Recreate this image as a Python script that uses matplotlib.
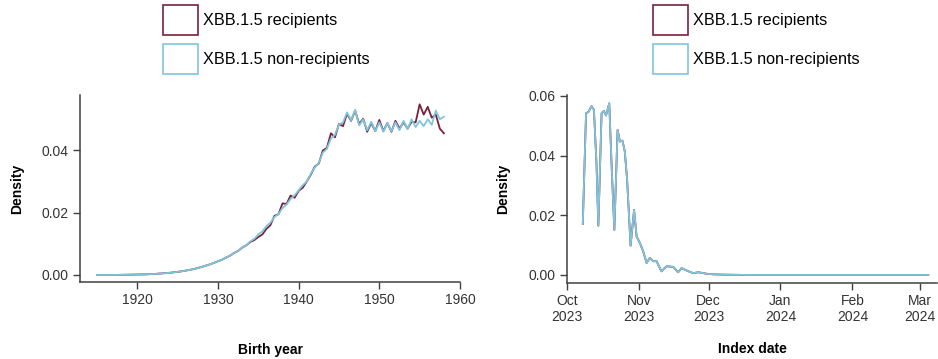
import numpy as np
import pandas as pd
import matplotlib
matplotlib.use("Agg")
import matplotlib.pyplot as plt
import matplotlib.dates as mdates
from matplotlib.patches import Patch

plt.rcParams["font.family"] = ["Liberation Sans", "DejaVu Sans"]

# birth year density
birth_year = [1915, 1917, 1919, 1921, 1922, 1923, 1924, 1925, 1926, 1927, 1928, 1929,
              1930, 1930.5, 1931, 1931.5, 1932, 1932.5, 1933, 1933.5, 1934, 1934.5,
              1935, 1935.5, 1936, 1936.5, 1937, 1937.5, 1938, 1938.5, 1939, 1939.5,
              1940, 1940.5, 1941, 1941.5, 1942, 1942.5, 1943, 1943.5, 1944, 1944.5,
              1945, 1945.5, 1946, 1946.5, 1947, 1947.5, 1948, 1948.5, 1949, 1949.5,
              1950, 1950.5, 1951, 1951.5, 1952, 1952.5, 1953, 1953.5, 1954, 1954.5,
              1955, 1955.5, 1956, 1956.5, 1957, 1957.5, 1958]

by_nonrecip = [0.0000, 0.0000, 0.0001, 0.0002, 0.0003, 0.0005, 0.0007, 0.0010, 0.0014, 0.0019, 0.0026, 0.0034,
               0.0044, 0.0049, 0.0056, 0.0062, 0.0071, 0.0077, 0.0088, 0.0095, 0.0108, 0.0116,
               0.0130, 0.0140, 0.0157, 0.0168, 0.0186, 0.0196, 0.0215, 0.0226, 0.0244, 0.0256,
               0.0272, 0.0288, 0.0300, 0.0325, 0.0345, 0.0360, 0.0393, 0.0405, 0.0438, 0.0450,
               0.0483, 0.0490, 0.0522, 0.0497, 0.0530, 0.0480, 0.0500, 0.0465, 0.0492, 0.0462,
               0.0490, 0.0460, 0.0488, 0.0462, 0.0490, 0.0465, 0.0495, 0.0468, 0.0500, 0.0475,
               0.0495, 0.0478, 0.0500, 0.0482, 0.0528, 0.0500, 0.0508]

by_recip = [0.0000, 0.0000, 0.0001, 0.0002, 0.0003, 0.0005, 0.0007, 0.0010, 0.0014, 0.0019, 0.0026, 0.0034,
            0.0044, 0.0049, 0.0056, 0.0062, 0.0071, 0.0077, 0.0088, 0.0095, 0.0106, 0.0112,
            0.0122, 0.0130, 0.0148, 0.0160, 0.0190, 0.0195, 0.0230, 0.0228, 0.0255, 0.0248,
            0.0270, 0.0280, 0.0300, 0.0322, 0.0348, 0.0358, 0.0400, 0.0408, 0.0455, 0.0442,
            0.0485, 0.0478, 0.0518, 0.0495, 0.0528, 0.0485, 0.0502, 0.0460, 0.0488, 0.0462,
            0.0498, 0.0462, 0.0488, 0.0460, 0.0495, 0.0470, 0.0490, 0.0470, 0.0492, 0.0490,
            0.0548, 0.0515, 0.0540, 0.0505, 0.0515, 0.0470, 0.0455]

# index date density (days after 1 Oct 2023)
idx_days = [6.8, 8.2, 9.2, 10.6, 11.6, 12.7, 13.5, 14.9, 15.9, 16.8, 18.2, 19.2, 20.4,
            21.8, 22.8, 23.9, 24.9, 25.9, 27.4, 28.9, 30.0, 31.4, 32.8, 34.3, 35.7,
            37.2, 38.6, 40.7, 42.9, 45.8, 47.9, 49.4, 51.5, 54.4, 56.6, 60.2, 63.0,
            67.4, 77.0, 155.7]
idx_density = [0.0171, 0.0542, 0.0546, 0.0566, 0.0553, 0.0374, 0.0165, 0.0542, 0.0550, 0.0534,
               0.0575, 0.0370, 0.0151, 0.0486, 0.0447, 0.0450, 0.0414, 0.0319, 0.0098, 0.0218,
               0.0129, 0.0107, 0.0080, 0.0040, 0.0057, 0.0046, 0.0046, 0.0012, 0.0029, 0.0027,
               0.0009, 0.0023, 0.0015, 0.0006, 0.0009, 0.0004, 0.0002, 0.0001, 0.0000, 0.0000]

red = "#7b1f3f"
blue = "#7ec6dc"
axcol = "#404040"

fig = plt.figure(figsize=(9.38, 3.59), dpi=100)
ax1 = fig.add_axes([0.0853, 0.2145, 0.4051, 0.5209])
ax2 = fig.add_axes([0.6045, 0.2117, 0.3945, 0.5237])

ax1.plot(birth_year, by_recip, color=red, lw=1.3, solid_joinstyle="round")
ax1.plot(birth_year, by_nonrecip, color=blue, lw=1.3, solid_joinstyle="round")
ax1.set_xlim(1912.9, 1960)
ax1.set_ylim(-0.00225, 0.0578)
ax1.set_xticks([1920, 1930, 1940, 1950, 1960])
ax1.set_yticks([0.0, 0.02, 0.04])
ax1.yaxis.set_major_formatter(plt.FormatStrFormatter("%.2f"))

dates = pd.to_datetime("2023-10-01") + pd.to_timedelta(idx_days, unit="D")
ax2.plot(dates, idx_density, color=red, lw=1.3, solid_joinstyle="round")
ax2.plot(dates, idx_density, color=blue, lw=1.3, solid_joinstyle="round")
ax2.set_xlim(pd.Timestamp("2023-10-01"), pd.Timestamp("2024-03-08 12:00"))
ax2.set_ylim(-0.0027, 0.0603)
ax2.set_yticks([0.0, 0.02, 0.04, 0.06])
ax2.yaxis.set_major_formatter(plt.FormatStrFormatter("%.2f"))
ax2.xaxis.set_major_locator(mdates.MonthLocator())
ax2.xaxis.set_major_formatter(mdates.DateFormatter("%b\n%Y"))

for ax in (ax1, ax2):
    for s in ("top", "right"):
        ax.spines[s].set_visible(False)
    for s in ("left", "bottom"):
        ax.spines[s].set_color(axcol)
        ax.spines[s].set_linewidth(1.1)
    ax.tick_params(direction="out", length=5, width=1.0, color=axcol,
                   labelsize=10, labelcolor="#333333", pad=3)
    ax.set_ylabel("Density", fontsize=10, fontweight="bold", va="center")

ax1.set_xlabel("Birth year", fontsize=10, fontweight="bold", va="center")
ax2.set_xlabel("Index date", fontsize=10, fontweight="bold", va="center")
ax1.xaxis.set_label_coords(0.5, -0.364)
ax2.xaxis.set_label_coords(0.5, -0.352)
ax1.yaxis.set_label_coords(-0.166, 0.5)
ax2.yaxis.set_label_coords(-0.173, 0.5)

handles = [Patch(facecolor="white", edgecolor=red, lw=1.2, label="XBB.1.5 recipients"),
           Patch(facecolor="white", edgecolor=blue, lw=1.2, label="XBB.1.5 non-recipients")]
for x0 in (163 / 938, 653 / 938):
    fig.legend(handles=handles, loc="upper left", bbox_to_anchor=(x0, 1 - 5 / 359),
               frameon=False, fontsize=11.7, handlelength=2.15, handleheight=2.45,
               handletextpad=0.3, labelspacing=0.55, borderpad=0, borderaxespad=0)

fig.savefig("out.png", dpi=100)
